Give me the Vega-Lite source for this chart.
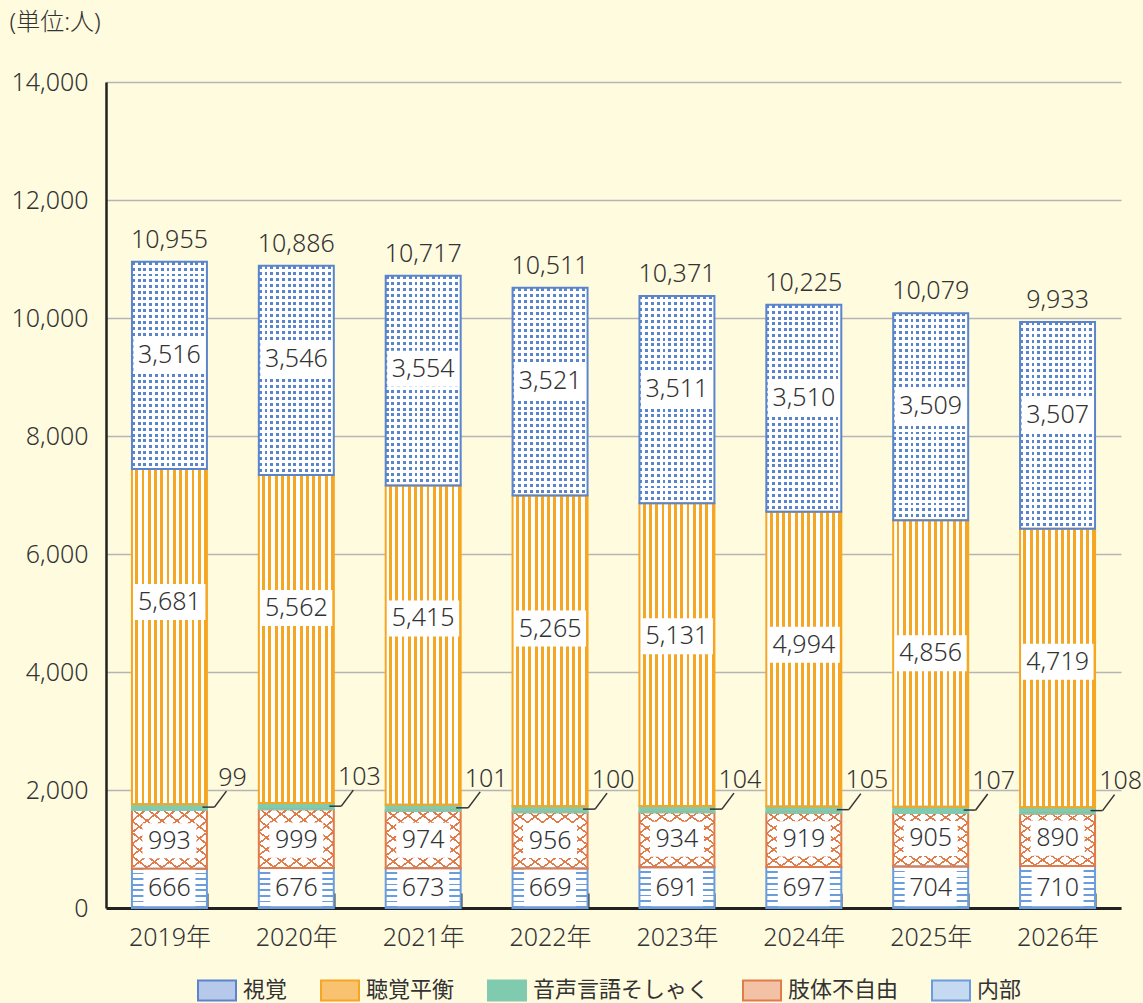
{
  "$schema": "https://vega.github.io/schema/vega-lite/v6.json",
  "width": 1015,
  "height": 826,
  "autosize": "none",
  "padding": {"left": 106, "top": 82, "right": 22, "bottom": 95},
  "background": "#FFFBDF",
  "config": {"view": {"stroke": null}, "font": "Noto Sans, Noto Sans CJK JP"},
  "data": {"values": [
    {"year": "2019年", "cat": "内部", "v": 666, "ord": 1},
    {"year": "2019年", "cat": "肢体不自由", "v": 993, "ord": 2},
    {"year": "2019年", "cat": "音声言語そしゃく", "v": 99, "ord": 3},
    {"year": "2019年", "cat": "聴覚平衡", "v": 5681, "ord": 4},
    {"year": "2019年", "cat": "視覚", "v": 3516, "ord": 5},
    {"year": "2020年", "cat": "内部", "v": 676, "ord": 1},
    {"year": "2020年", "cat": "肢体不自由", "v": 999, "ord": 2},
    {"year": "2020年", "cat": "音声言語そしゃく", "v": 103, "ord": 3},
    {"year": "2020年", "cat": "聴覚平衡", "v": 5562, "ord": 4},
    {"year": "2020年", "cat": "視覚", "v": 3546, "ord": 5},
    {"year": "2021年", "cat": "内部", "v": 673, "ord": 1},
    {"year": "2021年", "cat": "肢体不自由", "v": 974, "ord": 2},
    {"year": "2021年", "cat": "音声言語そしゃく", "v": 101, "ord": 3},
    {"year": "2021年", "cat": "聴覚平衡", "v": 5415, "ord": 4},
    {"year": "2021年", "cat": "視覚", "v": 3554, "ord": 5},
    {"year": "2022年", "cat": "内部", "v": 669, "ord": 1},
    {"year": "2022年", "cat": "肢体不自由", "v": 956, "ord": 2},
    {"year": "2022年", "cat": "音声言語そしゃく", "v": 100, "ord": 3},
    {"year": "2022年", "cat": "聴覚平衡", "v": 5265, "ord": 4},
    {"year": "2022年", "cat": "視覚", "v": 3521, "ord": 5},
    {"year": "2023年", "cat": "内部", "v": 691, "ord": 1},
    {"year": "2023年", "cat": "肢体不自由", "v": 934, "ord": 2},
    {"year": "2023年", "cat": "音声言語そしゃく", "v": 104, "ord": 3},
    {"year": "2023年", "cat": "聴覚平衡", "v": 5131, "ord": 4},
    {"year": "2023年", "cat": "視覚", "v": 3511, "ord": 5},
    {"year": "2024年", "cat": "内部", "v": 697, "ord": 1},
    {"year": "2024年", "cat": "肢体不自由", "v": 919, "ord": 2},
    {"year": "2024年", "cat": "音声言語そしゃく", "v": 105, "ord": 3},
    {"year": "2024年", "cat": "聴覚平衡", "v": 4994, "ord": 4},
    {"year": "2024年", "cat": "視覚", "v": 3510, "ord": 5},
    {"year": "2025年", "cat": "内部", "v": 704, "ord": 1},
    {"year": "2025年", "cat": "肢体不自由", "v": 905, "ord": 2},
    {"year": "2025年", "cat": "音声言語そしゃく", "v": 107, "ord": 3},
    {"year": "2025年", "cat": "聴覚平衡", "v": 4856, "ord": 4},
    {"year": "2025年", "cat": "視覚", "v": 3509, "ord": 5},
    {"year": "2026年", "cat": "内部", "v": 710, "ord": 1},
    {"year": "2026年", "cat": "肢体不自由", "v": 890, "ord": 2},
    {"year": "2026年", "cat": "音声言語そしゃく", "v": 108, "ord": 3},
    {"year": "2026年", "cat": "聴覚平衡", "v": 4719, "ord": 4},
    {"year": "2026年", "cat": "視覚", "v": 3507, "ord": 5}
  ]},
  "transform": [
    {"stack": "v", "groupby": ["year"], "sort": [{"field": "ord", "order": "ascending"}], "as": ["y0", "y1"]}
  ],
  "encoding": {
    "x": {
      "field": "year", "type": "nominal",
      "scale": {"paddingInner": 0.409, "paddingOuter": 0.2045},
      "axis": {
        "title": null, "labelAngle": 0, "labelFontSize": 25, "labelColor": "#333333", "labelFontWeight": 300,
        "labelPadding": 32, "domainColor": "#222222", "domainWidth": 3,
        "tickBand": "extent", "tickSize": -15, "tickColor": "#222222", "tickWidth": 2, "grid": false
      }
    }
  },
  "layer": [
    {
      "mark": {"type": "bar"},
      "encoding": {
        "y": {
          "field": "y0", "type": "quantitative",
          "scale": {"domain": [0, 14000], "nice": false},
          "axis": {
            "title": "(単位:人)", "titleAngle": 0, "titleX": -97, "titleY": -60, "titleAlign": "left",
            "titleBaseline": "middle", "titleFontSize": 24, "titleFontWeight": 300, "titleColor": "#333333",
            "values": [0, 2000, 4000, 6000, 8000, 10000, 12000, 14000], "labelExpr": "format(datum.value, ',')",
            "labelFontSize": 25, "labelFontWeight": 300, "labelColor": "#333333", "labelPadding": 18, "ticks": false,
            "domainColor": "#222222", "domainWidth": 2.5, "gridColor": "#B5B5B5", "gridWidth": 1.3
          }
        },
        "y2": {"field": "y1"},
        "color": {
          "field": "cat", "type": "nominal",
          "scale": {
            "domain": ["視覚", "聴覚平衡", "音声言語そしゃく", "肢体不自由", "内部"],
            "range": ["#B7C9EB", "#F8C271", "#80CBAF", "#F3C2A6", "#C5D9F1"]
          },
          "legend": {
            "title": null, "orient": "none", "legendX": 91, "legendY": 888, "direction": "horizontal", "columns": 5,
            "columnPadding": 29, "padding": 0, "labelLimit": 400,
            "symbolType": "M-1,-0.53H1V0.53H-1Z", "symbolSize": 1444, "symbolStrokeWidth": 2,
            "labelFontSize": 22, "labelColor": "#333333", "labelOffset": 6, "labelFont": "Noto Sans CJK JP",
            "encode": {
              "symbols": {
                "update": {
                  "stroke": {"signal": "datum.value === '視覚' ? '#5A85CC' : datum.value === '聴覚平衡' ? '#F5A623' : datum.value === '音声言語そしゃく' ? '#80CBAF' : datum.value === '肢体不自由' ? '#E07B4A' : '#6B9CDB'"},
                  "strokeWidth": {"value": 2},
                  "opacity": {"value": 1}
                }
              }
            }
          }
        }
      }
    },
    {
      "transform": [{"filter": "datum.cat === '視覚'"}],
      "mark": {"type": "bar", "fill": {"gradient": "linear", "x1": 0, "y1": 0, "x2": 0, "y2": 1, "stops": [
        {"offset": 0, "color": "#5A85CC"}, {"offset": 0.0143, "color": "#5A85CC"}, {"offset": 0.0143, "color": "#FFFFFF"}, {"offset": 0.0286, "color": "#FFFFFF"},
        {"offset": 0.0286, "color": "#5A85CC"}, {"offset": 0.0429, "color": "#5A85CC"}, {"offset": 0.0429, "color": "#FFFFFF"}, {"offset": 0.0571, "color": "#FFFFFF"},
        {"offset": 0.0571, "color": "#5A85CC"}, {"offset": 0.0714, "color": "#5A85CC"}, {"offset": 0.0714, "color": "#FFFFFF"}, {"offset": 0.0857, "color": "#FFFFFF"},
        {"offset": 0.0857, "color": "#5A85CC"}, {"offset": 0.1, "color": "#5A85CC"}, {"offset": 0.1, "color": "#FFFFFF"}, {"offset": 0.1143, "color": "#FFFFFF"},
        {"offset": 0.1143, "color": "#5A85CC"}, {"offset": 0.1286, "color": "#5A85CC"}, {"offset": 0.1286, "color": "#FFFFFF"}, {"offset": 0.1429, "color": "#FFFFFF"},
        {"offset": 0.1429, "color": "#5A85CC"}, {"offset": 0.1571, "color": "#5A85CC"}, {"offset": 0.1571, "color": "#FFFFFF"}, {"offset": 0.1714, "color": "#FFFFFF"},
        {"offset": 0.1714, "color": "#5A85CC"}, {"offset": 0.1857, "color": "#5A85CC"}, {"offset": 0.1857, "color": "#FFFFFF"}, {"offset": 0.2, "color": "#FFFFFF"},
        {"offset": 0.2, "color": "#5A85CC"}, {"offset": 0.2143, "color": "#5A85CC"}, {"offset": 0.2143, "color": "#FFFFFF"}, {"offset": 0.2286, "color": "#FFFFFF"},
        {"offset": 0.2286, "color": "#5A85CC"}, {"offset": 0.2429, "color": "#5A85CC"}, {"offset": 0.2429, "color": "#FFFFFF"}, {"offset": 0.2571, "color": "#FFFFFF"},
        {"offset": 0.2571, "color": "#5A85CC"}, {"offset": 0.2714, "color": "#5A85CC"}, {"offset": 0.2714, "color": "#FFFFFF"}, {"offset": 0.2857, "color": "#FFFFFF"},
        {"offset": 0.2857, "color": "#5A85CC"}, {"offset": 0.3, "color": "#5A85CC"}, {"offset": 0.3, "color": "#FFFFFF"}, {"offset": 0.3143, "color": "#FFFFFF"},
        {"offset": 0.3143, "color": "#5A85CC"}, {"offset": 0.3286, "color": "#5A85CC"}, {"offset": 0.3286, "color": "#FFFFFF"}, {"offset": 0.3429, "color": "#FFFFFF"},
        {"offset": 0.3429, "color": "#5A85CC"}, {"offset": 0.3571, "color": "#5A85CC"}, {"offset": 0.3571, "color": "#FFFFFF"}, {"offset": 0.3714, "color": "#FFFFFF"},
        {"offset": 0.3714, "color": "#5A85CC"}, {"offset": 0.3857, "color": "#5A85CC"}, {"offset": 0.3857, "color": "#FFFFFF"}, {"offset": 0.4, "color": "#FFFFFF"},
        {"offset": 0.4, "color": "#5A85CC"}, {"offset": 0.4143, "color": "#5A85CC"}, {"offset": 0.4143, "color": "#FFFFFF"}, {"offset": 0.4286, "color": "#FFFFFF"},
        {"offset": 0.4286, "color": "#5A85CC"}, {"offset": 0.4429, "color": "#5A85CC"}, {"offset": 0.4429, "color": "#FFFFFF"}, {"offset": 0.4571, "color": "#FFFFFF"},
        {"offset": 0.4571, "color": "#5A85CC"}, {"offset": 0.4714, "color": "#5A85CC"}, {"offset": 0.4714, "color": "#FFFFFF"}, {"offset": 0.4857, "color": "#FFFFFF"},
        {"offset": 0.4857, "color": "#5A85CC"}, {"offset": 0.5, "color": "#5A85CC"}, {"offset": 0.5, "color": "#FFFFFF"}, {"offset": 0.5143, "color": "#FFFFFF"},
        {"offset": 0.5143, "color": "#5A85CC"}, {"offset": 0.5286, "color": "#5A85CC"}, {"offset": 0.5286, "color": "#FFFFFF"}, {"offset": 0.5429, "color": "#FFFFFF"},
        {"offset": 0.5429, "color": "#5A85CC"}, {"offset": 0.5571, "color": "#5A85CC"}, {"offset": 0.5571, "color": "#FFFFFF"}, {"offset": 0.5714, "color": "#FFFFFF"},
        {"offset": 0.5714, "color": "#5A85CC"}, {"offset": 0.5857, "color": "#5A85CC"}, {"offset": 0.5857, "color": "#FFFFFF"}, {"offset": 0.6, "color": "#FFFFFF"},
        {"offset": 0.6, "color": "#5A85CC"}, {"offset": 0.6143, "color": "#5A85CC"}, {"offset": 0.6143, "color": "#FFFFFF"}, {"offset": 0.6286, "color": "#FFFFFF"},
        {"offset": 0.6286, "color": "#5A85CC"}, {"offset": 0.6429, "color": "#5A85CC"}, {"offset": 0.6429, "color": "#FFFFFF"}, {"offset": 0.6571, "color": "#FFFFFF"},
        {"offset": 0.6571, "color": "#5A85CC"}, {"offset": 0.6714, "color": "#5A85CC"}, {"offset": 0.6714, "color": "#FFFFFF"}, {"offset": 0.6857, "color": "#FFFFFF"},
        {"offset": 0.6857, "color": "#5A85CC"}, {"offset": 0.7, "color": "#5A85CC"}, {"offset": 0.7, "color": "#FFFFFF"}, {"offset": 0.7143, "color": "#FFFFFF"},
        {"offset": 0.7143, "color": "#5A85CC"}, {"offset": 0.7286, "color": "#5A85CC"}, {"offset": 0.7286, "color": "#FFFFFF"}, {"offset": 0.7429, "color": "#FFFFFF"},
        {"offset": 0.7429, "color": "#5A85CC"}, {"offset": 0.7571, "color": "#5A85CC"}, {"offset": 0.7571, "color": "#FFFFFF"}, {"offset": 0.7714, "color": "#FFFFFF"},
        {"offset": 0.7714, "color": "#5A85CC"}, {"offset": 0.7857, "color": "#5A85CC"}, {"offset": 0.7857, "color": "#FFFFFF"}, {"offset": 0.8, "color": "#FFFFFF"},
        {"offset": 0.8, "color": "#5A85CC"}, {"offset": 0.8143, "color": "#5A85CC"}, {"offset": 0.8143, "color": "#FFFFFF"}, {"offset": 0.8286, "color": "#FFFFFF"},
        {"offset": 0.8286, "color": "#5A85CC"}, {"offset": 0.8429, "color": "#5A85CC"}, {"offset": 0.8429, "color": "#FFFFFF"}, {"offset": 0.8571, "color": "#FFFFFF"},
        {"offset": 0.8571, "color": "#5A85CC"}, {"offset": 0.8714, "color": "#5A85CC"}, {"offset": 0.8714, "color": "#FFFFFF"}, {"offset": 0.8857, "color": "#FFFFFF"},
        {"offset": 0.8857, "color": "#5A85CC"}, {"offset": 0.9, "color": "#5A85CC"}, {"offset": 0.9, "color": "#FFFFFF"}, {"offset": 0.9143, "color": "#FFFFFF"},
        {"offset": 0.9143, "color": "#5A85CC"}, {"offset": 0.9286, "color": "#5A85CC"}, {"offset": 0.9286, "color": "#FFFFFF"}, {"offset": 0.9429, "color": "#FFFFFF"},
        {"offset": 0.9429, "color": "#5A85CC"}, {"offset": 0.9571, "color": "#5A85CC"}, {"offset": 0.9571, "color": "#FFFFFF"}, {"offset": 0.9714, "color": "#FFFFFF"},
        {"offset": 0.9714, "color": "#5A85CC"}, {"offset": 0.9857, "color": "#5A85CC"}, {"offset": 0.9857, "color": "#FFFFFF"}, {"offset": 1, "color": "#FFFFFF"}
      ]}},
      "encoding": {"y": {"field": "y0", "type": "quantitative"}, "y2": {"field": "y1"}}
    },
    {
      "transform": [{"filter": "datum.cat === '視覚'"}],
      "mark": {"type": "bar", "fill": {"gradient": "linear", "x1": 0, "y1": 0, "x2": 1, "y2": 0, "stops": [
        {"offset": 0, "color": "rgba(255,255,255,0)"}, {"offset": 0.0385, "color": "rgba(255,255,255,0)"}, {"offset": 0.0385, "color": "#FFFFFF"}, {"offset": 0.0769, "color": "#FFFFFF"},
        {"offset": 0.0769, "color": "rgba(255,255,255,0)"}, {"offset": 0.1154, "color": "rgba(255,255,255,0)"}, {"offset": 0.1154, "color": "#FFFFFF"}, {"offset": 0.1538, "color": "#FFFFFF"},
        {"offset": 0.1538, "color": "rgba(255,255,255,0)"}, {"offset": 0.1923, "color": "rgba(255,255,255,0)"}, {"offset": 0.1923, "color": "#FFFFFF"}, {"offset": 0.2308, "color": "#FFFFFF"},
        {"offset": 0.2308, "color": "rgba(255,255,255,0)"}, {"offset": 0.2692, "color": "rgba(255,255,255,0)"}, {"offset": 0.2692, "color": "#FFFFFF"}, {"offset": 0.3077, "color": "#FFFFFF"},
        {"offset": 0.3077, "color": "rgba(255,255,255,0)"}, {"offset": 0.3462, "color": "rgba(255,255,255,0)"}, {"offset": 0.3462, "color": "#FFFFFF"}, {"offset": 0.3846, "color": "#FFFFFF"},
        {"offset": 0.3846, "color": "rgba(255,255,255,0)"}, {"offset": 0.4231, "color": "rgba(255,255,255,0)"}, {"offset": 0.4231, "color": "#FFFFFF"}, {"offset": 0.4615, "color": "#FFFFFF"},
        {"offset": 0.4615, "color": "rgba(255,255,255,0)"}, {"offset": 0.5, "color": "rgba(255,255,255,0)"}, {"offset": 0.5, "color": "#FFFFFF"}, {"offset": 0.5385, "color": "#FFFFFF"},
        {"offset": 0.5385, "color": "rgba(255,255,255,0)"}, {"offset": 0.5769, "color": "rgba(255,255,255,0)"}, {"offset": 0.5769, "color": "#FFFFFF"}, {"offset": 0.6154, "color": "#FFFFFF"},
        {"offset": 0.6154, "color": "rgba(255,255,255,0)"}, {"offset": 0.6538, "color": "rgba(255,255,255,0)"}, {"offset": 0.6538, "color": "#FFFFFF"}, {"offset": 0.6923, "color": "#FFFFFF"},
        {"offset": 0.6923, "color": "rgba(255,255,255,0)"}, {"offset": 0.7308, "color": "rgba(255,255,255,0)"}, {"offset": 0.7308, "color": "#FFFFFF"}, {"offset": 0.7692, "color": "#FFFFFF"},
        {"offset": 0.7692, "color": "rgba(255,255,255,0)"}, {"offset": 0.8077, "color": "rgba(255,255,255,0)"}, {"offset": 0.8077, "color": "#FFFFFF"}, {"offset": 0.8462, "color": "#FFFFFF"},
        {"offset": 0.8462, "color": "rgba(255,255,255,0)"}, {"offset": 0.8846, "color": "rgba(255,255,255,0)"}, {"offset": 0.8846, "color": "#FFFFFF"}, {"offset": 0.9231, "color": "#FFFFFF"},
        {"offset": 0.9231, "color": "rgba(255,255,255,0)"}, {"offset": 0.9615, "color": "rgba(255,255,255,0)"}, {"offset": 0.9615, "color": "#FFFFFF"}, {"offset": 1, "color": "#FFFFFF"}
      ]}},
      "encoding": {"y": {"field": "y0", "type": "quantitative"}, "y2": {"field": "y1"}}
    },
    {
      "transform": [{"filter": "datum.cat === '聴覚平衡'"}],
      "mark": {"type": "bar", "fill": {"gradient": "linear", "x1": 0, "y1": 0, "x2": 1, "y2": 0, "stops": [
        {"offset": 0, "color": "#FFFFFF"}, {"offset": 0.045, "color": "#FFFFFF"}, {"offset": 0.045, "color": "#F5A623"}, {"offset": 0.0833, "color": "#F5A623"},
        {"offset": 0.0833, "color": "#FFFFFF"}, {"offset": 0.1283, "color": "#FFFFFF"}, {"offset": 0.1283, "color": "#F5A623"}, {"offset": 0.1667, "color": "#F5A623"},
        {"offset": 0.1667, "color": "#FFFFFF"}, {"offset": 0.2117, "color": "#FFFFFF"}, {"offset": 0.2117, "color": "#F5A623"}, {"offset": 0.25, "color": "#F5A623"},
        {"offset": 0.25, "color": "#FFFFFF"}, {"offset": 0.295, "color": "#FFFFFF"}, {"offset": 0.295, "color": "#F5A623"}, {"offset": 0.3333, "color": "#F5A623"},
        {"offset": 0.3333, "color": "#FFFFFF"}, {"offset": 0.3783, "color": "#FFFFFF"}, {"offset": 0.3783, "color": "#F5A623"}, {"offset": 0.4167, "color": "#F5A623"},
        {"offset": 0.4167, "color": "#FFFFFF"}, {"offset": 0.4617, "color": "#FFFFFF"}, {"offset": 0.4617, "color": "#F5A623"}, {"offset": 0.5, "color": "#F5A623"},
        {"offset": 0.5, "color": "#FFFFFF"}, {"offset": 0.545, "color": "#FFFFFF"}, {"offset": 0.545, "color": "#F5A623"}, {"offset": 0.5833, "color": "#F5A623"},
        {"offset": 0.5833, "color": "#FFFFFF"}, {"offset": 0.6283, "color": "#FFFFFF"}, {"offset": 0.6283, "color": "#F5A623"}, {"offset": 0.6667, "color": "#F5A623"},
        {"offset": 0.6667, "color": "#FFFFFF"}, {"offset": 0.7117, "color": "#FFFFFF"}, {"offset": 0.7117, "color": "#F5A623"}, {"offset": 0.75, "color": "#F5A623"},
        {"offset": 0.75, "color": "#FFFFFF"}, {"offset": 0.795, "color": "#FFFFFF"}, {"offset": 0.795, "color": "#F5A623"}, {"offset": 0.8333, "color": "#F5A623"},
        {"offset": 0.8333, "color": "#FFFFFF"}, {"offset": 0.8783, "color": "#FFFFFF"}, {"offset": 0.8783, "color": "#F5A623"}, {"offset": 0.9167, "color": "#F5A623"},
        {"offset": 0.9167, "color": "#FFFFFF"}, {"offset": 0.9617, "color": "#FFFFFF"}, {"offset": 0.9617, "color": "#F5A623"}, {"offset": 1, "color": "#F5A623"}
      ]}},
      "encoding": {"y": {"field": "y0", "type": "quantitative"}, "y2": {"field": "y1"}}
    },
    {
      "transform": [{"filter": "datum.cat === '肢体不自由'"}],
      "mark": {"type": "bar", "fill": {"gradient": "linear", "x1": 0, "y1": 0, "x2": 1, "y2": 1, "stops": [
        {"offset": 0, "color": "#FFFFFF"}, {"offset": 0.082, "color": "#FFFFFF"}, {"offset": 0.082, "color": "#E07B4A"}, {"offset": 0.1, "color": "#E07B4A"},
        {"offset": 0.1, "color": "#FFFFFF"}, {"offset": 0.182, "color": "#FFFFFF"}, {"offset": 0.182, "color": "#E07B4A"}, {"offset": 0.2, "color": "#E07B4A"},
        {"offset": 0.2, "color": "#FFFFFF"}, {"offset": 0.282, "color": "#FFFFFF"}, {"offset": 0.282, "color": "#E07B4A"}, {"offset": 0.3, "color": "#E07B4A"},
        {"offset": 0.3, "color": "#FFFFFF"}, {"offset": 0.382, "color": "#FFFFFF"}, {"offset": 0.382, "color": "#E07B4A"}, {"offset": 0.4, "color": "#E07B4A"},
        {"offset": 0.4, "color": "#FFFFFF"}, {"offset": 0.482, "color": "#FFFFFF"}, {"offset": 0.482, "color": "#E07B4A"}, {"offset": 0.5, "color": "#E07B4A"},
        {"offset": 0.5, "color": "#FFFFFF"}, {"offset": 0.582, "color": "#FFFFFF"}, {"offset": 0.582, "color": "#E07B4A"}, {"offset": 0.6, "color": "#E07B4A"},
        {"offset": 0.6, "color": "#FFFFFF"}, {"offset": 0.682, "color": "#FFFFFF"}, {"offset": 0.682, "color": "#E07B4A"}, {"offset": 0.7, "color": "#E07B4A"},
        {"offset": 0.7, "color": "#FFFFFF"}, {"offset": 0.782, "color": "#FFFFFF"}, {"offset": 0.782, "color": "#E07B4A"}, {"offset": 0.8, "color": "#E07B4A"},
        {"offset": 0.8, "color": "#FFFFFF"}, {"offset": 0.882, "color": "#FFFFFF"}, {"offset": 0.882, "color": "#E07B4A"}, {"offset": 0.9, "color": "#E07B4A"},
        {"offset": 0.9, "color": "#FFFFFF"}, {"offset": 0.982, "color": "#FFFFFF"}, {"offset": 0.982, "color": "#E07B4A"}, {"offset": 1, "color": "#E07B4A"}
      ]}},
      "encoding": {"y": {"field": "y0", "type": "quantitative"}, "y2": {"field": "y1"}}
    },
    {
      "transform": [{"filter": "datum.cat === '肢体不自由'"}],
      "mark": {"type": "bar", "fill": {"gradient": "linear", "x1": 1, "y1": 0, "x2": 0, "y2": 1, "stops": [
        {"offset": 0, "color": "rgba(255,255,255,0)"}, {"offset": 0.082, "color": "rgba(255,255,255,0)"}, {"offset": 0.082, "color": "#E07B4A"}, {"offset": 0.1, "color": "#E07B4A"},
        {"offset": 0.1, "color": "rgba(255,255,255,0)"}, {"offset": 0.182, "color": "rgba(255,255,255,0)"}, {"offset": 0.182, "color": "#E07B4A"}, {"offset": 0.2, "color": "#E07B4A"},
        {"offset": 0.2, "color": "rgba(255,255,255,0)"}, {"offset": 0.282, "color": "rgba(255,255,255,0)"}, {"offset": 0.282, "color": "#E07B4A"}, {"offset": 0.3, "color": "#E07B4A"},
        {"offset": 0.3, "color": "rgba(255,255,255,0)"}, {"offset": 0.382, "color": "rgba(255,255,255,0)"}, {"offset": 0.382, "color": "#E07B4A"}, {"offset": 0.4, "color": "#E07B4A"},
        {"offset": 0.4, "color": "rgba(255,255,255,0)"}, {"offset": 0.482, "color": "rgba(255,255,255,0)"}, {"offset": 0.482, "color": "#E07B4A"}, {"offset": 0.5, "color": "#E07B4A"},
        {"offset": 0.5, "color": "rgba(255,255,255,0)"}, {"offset": 0.582, "color": "rgba(255,255,255,0)"}, {"offset": 0.582, "color": "#E07B4A"}, {"offset": 0.6, "color": "#E07B4A"},
        {"offset": 0.6, "color": "rgba(255,255,255,0)"}, {"offset": 0.682, "color": "rgba(255,255,255,0)"}, {"offset": 0.682, "color": "#E07B4A"}, {"offset": 0.7, "color": "#E07B4A"},
        {"offset": 0.7, "color": "rgba(255,255,255,0)"}, {"offset": 0.782, "color": "rgba(255,255,255,0)"}, {"offset": 0.782, "color": "#E07B4A"}, {"offset": 0.8, "color": "#E07B4A"},
        {"offset": 0.8, "color": "rgba(255,255,255,0)"}, {"offset": 0.882, "color": "rgba(255,255,255,0)"}, {"offset": 0.882, "color": "#E07B4A"}, {"offset": 0.9, "color": "#E07B4A"},
        {"offset": 0.9, "color": "rgba(255,255,255,0)"}, {"offset": 0.982, "color": "rgba(255,255,255,0)"}, {"offset": 0.982, "color": "#E07B4A"}, {"offset": 1, "color": "#E07B4A"}
      ]}},
      "encoding": {"y": {"field": "y0", "type": "quantitative"}, "y2": {"field": "y1"}}
    },
    {
      "transform": [{"filter": "datum.cat === '内部'"}],
      "mark": {"type": "bar", "fill": {"gradient": "linear", "x1": 0, "y1": 0, "x2": 0, "y2": 1, "stops": [
        {"offset": 0, "color": "#FFFFFF"}, {"offset": 0.1, "color": "#FFFFFF"}, {"offset": 0.1, "color": "#6B9CDB"}, {"offset": 0.1429, "color": "#6B9CDB"},
        {"offset": 0.1429, "color": "#FFFFFF"}, {"offset": 0.2429, "color": "#FFFFFF"}, {"offset": 0.2429, "color": "#6B9CDB"}, {"offset": 0.2857, "color": "#6B9CDB"},
        {"offset": 0.2857, "color": "#FFFFFF"}, {"offset": 0.3857, "color": "#FFFFFF"}, {"offset": 0.3857, "color": "#6B9CDB"}, {"offset": 0.4286, "color": "#6B9CDB"},
        {"offset": 0.4286, "color": "#FFFFFF"}, {"offset": 0.5286, "color": "#FFFFFF"}, {"offset": 0.5286, "color": "#6B9CDB"}, {"offset": 0.5714, "color": "#6B9CDB"},
        {"offset": 0.5714, "color": "#FFFFFF"}, {"offset": 0.6714, "color": "#FFFFFF"}, {"offset": 0.6714, "color": "#6B9CDB"}, {"offset": 0.7143, "color": "#6B9CDB"},
        {"offset": 0.7143, "color": "#FFFFFF"}, {"offset": 0.8143, "color": "#FFFFFF"}, {"offset": 0.8143, "color": "#6B9CDB"}, {"offset": 0.8571, "color": "#6B9CDB"},
        {"offset": 0.8571, "color": "#FFFFFF"}, {"offset": 0.9571, "color": "#FFFFFF"}, {"offset": 0.9571, "color": "#6B9CDB"}, {"offset": 1, "color": "#6B9CDB"}
      ]}},
      "encoding": {"y": {"field": "y0", "type": "quantitative"}, "y2": {"field": "y1"}}
    },
    {
      "mark": {"type": "bar", "fillOpacity": 0, "strokeWidth": 2},
      "encoding": {
        "y": {"field": "y0", "type": "quantitative"},
        "y2": {"field": "y1"},
        "stroke": {
          "field": "cat", "type": "nominal",
          "scale": {
            "domain": ["視覚", "聴覚平衡", "音声言語そしゃく", "肢体不自由", "内部"],
            "range": ["#5A85CC", "#F5A623", "#80CBAF", "#E07B4A", "#6B9CDB"]
          },
          "legend": null
        }
      }
    },
    {
      "transform": [{"filter": "datum.cat === '視覚'"}],
      "encoding": {"y": {"field": "y1", "type": "quantitative"}},
      "layer": [
        {"mark": {"type": "point", "shape": "M-1,-0.5H1V0.5H-1Z", "size": 5184, "filled": true, "fill": "#FFFFFF", "opacity": 1, "strokeWidth": 0, "yOffset": 93}},
        {"mark": {"type": "text", "fontSize": 25, "fontWeight": 300, "color": "#333333", "baseline": "middle", "yOffset": 93},
         "encoding": {"text": {"field": "v", "type": "quantitative", "format": ","}}}
      ]
    },
    {
      "transform": [{"filter": "datum.cat === '聴覚平衡'"}],
      "encoding": {"y": {"field": "y1", "type": "quantitative"}},
      "layer": [
        {"mark": {"type": "point", "shape": "M-1,-0.5H1V0.5H-1Z", "size": 5184, "filled": true, "fill": "#FFFFFF", "opacity": 1, "strokeWidth": 0, "yOffset": 133}},
        {"mark": {"type": "text", "fontSize": 25, "fontWeight": 300, "color": "#333333", "baseline": "middle", "yOffset": 133},
         "encoding": {"text": {"field": "v", "type": "quantitative", "format": ","}}}
      ]
    },
    {
      "transform": [{"filter": "datum.cat === '肢体不自由'"}],
      "encoding": {"y": {"field": "y0", "type": "quantitative"}},
      "layer": [
        {"mark": {"type": "point", "shape": "M-1,-0.65H1V0.65H-1Z", "size": 2916, "filled": true, "fill": "#FFFFFF", "opacity": 1, "strokeWidth": 0, "yOffset": -28}},
        {"mark": {"type": "text", "fontSize": 25, "fontWeight": 300, "color": "#333333", "baseline": "middle", "yOffset": -28},
         "encoding": {"text": {"field": "v", "type": "quantitative", "format": ","}}}
      ]
    },
    {
      "transform": [{"filter": "datum.cat === '内部'"}],
      "encoding": {"y": {"field": "y0", "type": "quantitative"}},
      "layer": [
        {"mark": {"type": "point", "shape": "M-1,-0.7H1V0.7H-1Z", "size": 2704, "filled": true, "fill": "#FFFFFF", "opacity": 1, "strokeWidth": 0, "yOffset": -20}},
        {"mark": {"type": "text", "fontSize": 25, "fontWeight": 300, "color": "#333333", "baseline": "middle", "yOffset": -20},
         "encoding": {"text": {"field": "v", "type": "quantitative", "format": ","}}}
      ]
    },
    {
      "transform": [{"filter": "datum.cat === '音声言語そしゃく'"}],
      "layer": [
        {"mark": {"type": "rule", "color": "#333333", "strokeWidth": 1.5, "xOffset": 33, "x2Offset": 45, "yOffset": -3},
         "encoding": {"x2": {"field": "year"}, "y": {"field": "y0", "type": "quantitative"}}},
        {"mark": {"type": "rule", "color": "#333333", "strokeWidth": 1.5, "xOffset": 45, "x2Offset": 57, "yOffset": -3, "y2Offset": -19},
         "encoding": {"x2": {"field": "year"}, "y": {"field": "y0", "type": "quantitative"}, "y2": {"field": "y0"}}},
        {"mark": {"type": "text", "fontSize": 25, "fontWeight": 300, "color": "#333333", "baseline": "middle", "xOffset": 63, "yOffset": -26},
         "encoding": {"y": {"field": "y1", "type": "quantitative"}, "text": {"field": "v", "type": "quantitative", "format": ","}}}
      ]
    },
    {
      "data": {"values": [
        {"year": "2019年", "total": 10955},
        {"year": "2020年", "total": 10886},
        {"year": "2021年", "total": 10717},
        {"year": "2022年", "total": 10511},
        {"year": "2023年", "total": 10371},
        {"year": "2024年", "total": 10225},
        {"year": "2025年", "total": 10079},
        {"year": "2026年", "total": 9933}
      ]},
      "mark": {"type": "text", "fontSize": 25, "fontWeight": 300, "color": "#333333", "baseline": "middle", "yOffset": -22},
      "encoding": {
        "y": {"field": "total", "type": "quantitative"},
        "text": {"field": "total", "type": "quantitative", "format": ","}
      }
    }
  ]
}
